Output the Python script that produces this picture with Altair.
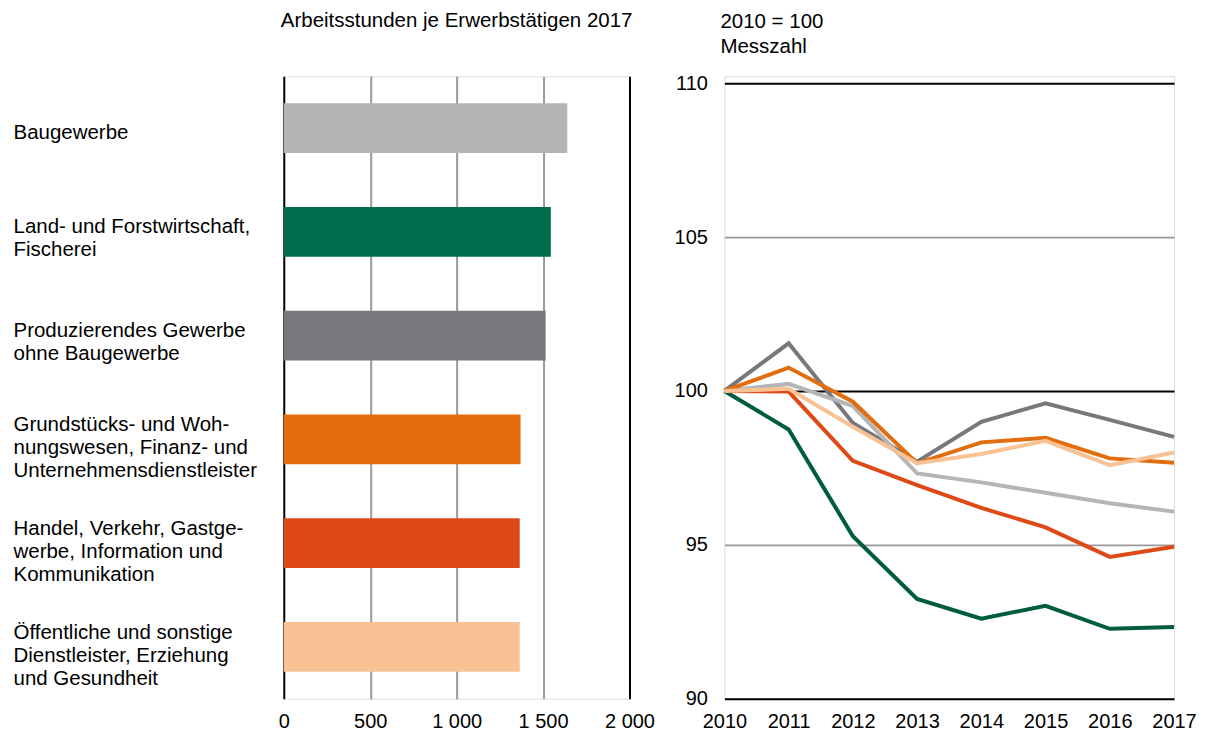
import altair as alt
import pandas as pd

# ---- data ----
categories = [
    "Baugewerbe",
    "Land- und Forstwirtschaft,|Fischerei",
    "Produzierendes Gewerbe|ohne Baugewerbe",
    "Grundstücks- und Woh-|nungswesen, Finanz- und|Unternehmensdienstleister",
    "Handel, Verkehr, Gastge-|werbe, Information und|Kommunikation",
    "Öffentliche und sonstige|Dienstleister, Erziehung|und Gesundheit",
]
hours_2017 = [1640, 1545, 1515, 1370, 1365, 1365]
bar_colors = ["#b4b5b7", "#006e4e", "#77787b", "#e36d0c", "#de4a17", "#f8c294"]

years = [2010, 2011, 2012, 2013, 2014, 2015, 2016, 2017]
idx_bau = [100, 100.23, 99.51, 97.32, 97.03, 96.69, 96.35, 96.08]
idx_land = [100, 98.75, 95.28, 93.24, 92.60, 93.02, 92.27, 92.33]
idx_prod = [100, 101.55, 98.96, 97.70, 99.00, 99.60, 99.06, 98.51]
idx_grund = [100, 100.76, 99.65, 97.65, 98.33, 98.48, 97.81, 97.67]
idx_handel = [100, 99.98, 97.73, 96.94, 96.20, 95.57, 94.61, 94.94]
idx_oeff = [100, 100.07, 98.84, 97.65, 97.95, 98.38, 97.59, 98.00]

series_names = ["Produzierendes", "Baugewerbe", "Land", "Handel", "Grundstücks", "Öffentliche"]
series_values = [idx_prod, idx_bau, idx_land, idx_handel, idx_grund, idx_oeff]
line_colors = ["#77787b", "#b4b5b7", "#005c40", "#de4a17", "#e36d0c", "#f8c294"]

FONT = "Liberation Sans"
FS_TXT = 20.5
FS_TICK = 20

# ---- bar chart ----
bar_df = pd.DataFrame({"cat": categories, "hours": hours_2017, "color": bar_colors})

bars = alt.Chart(bar_df).mark_bar().encode(
    y=alt.Y(
        "cat:N",
        sort=None,
        scale=alt.Scale(paddingInner=0.52, paddingOuter=0.26),
        axis=alt.Axis(
            title=None,
            labelExpr="split(datum.label, '|')",
            labelAlign="left",
            labelBaseline="middle",
            labelPadding=271,
            labelOffset={
                "condition": [
                    {"test": "length(split(datum.value, '|')) == 3", "value": -14},
                    {"test": "length(split(datum.value, '|')) == 2", "value": -5},
                ],
                "value": 5,
            },
            ticks=False,
            domain=False,
            labelFontSize=FS_TXT,
            labelLineHeight=23,
            labelLimit=400,
            labelColor="#000000",
            labelFont=FONT,
        ),
    ),
    x=alt.X(
        "hours:Q",
        scale=alt.Scale(domain=[0, 2000], nice=False),
        axis=alt.Axis(
            title=None,
            values=[0, 500, 1000, 1500, 2000],
            grid=True,
            gridColor={"condition": {"test": "datum.value == 0 || datum.value == 2000", "value": "#000000"}, "value": "#999999"},
            gridWidth=2,
            domain=False,
            ticks=False,
            labelFlush=False,
            labelExpr="replace(format(datum.value, ',d'), ',', ' ')",
            labelPadding=13,
            labelFontSize=FS_TICK,
            labelColor="#000000",
            labelFont=FONT,
        ),
    ),
    color=alt.Color("color:N", scale=None),
).properties(
    width=346,
    height=623,
    title=alt.TitleParams(
        "Arbeitsstunden je Erwerbstätigen 2017",
        anchor="middle",
        frame="group",
        fontSize=FS_TXT,
        fontWeight="normal",
        font=FONT,
        color="#000000",
        offset=45,
    ),
)

# ---- line chart ----
rows = []
for name, vals in zip(series_names, series_values):
    for y, v in zip(years, vals):
        rows.append({"series": name, "year": y, "value": v})
line_df = pd.DataFrame(rows)


def enc(chart):
    return chart.encode(
        x=alt.X(
            "year:Q",
            scale=alt.Scale(domain=[2010, 2017], nice=False),
            axis=alt.Axis(
                title=None,
                values=years,
                format="d",
                grid=False,
                domain=False,
                ticks=False,
                labelFlush=False,
                labelOverlap=False,
                labelPadding=13,
                labelFontSize=FS_TICK,
                labelColor="#000000",
                labelFont=FONT,
            ),
        ),
        y=alt.Y(
            "value:Q",
            scale=alt.Scale(domain=[90, 110.227], nice=False, zero=False),
            axis=alt.Axis(
                title=None,
                values=[90, 95, 100, 105, 110],
                grid=True,
                gridColor={"condition": {"test": "datum.value == 95 || datum.value == 105", "value": "#999999"}, "value": "#000000"},
                gridWidth={"condition": {"test": "datum.value == 95 || datum.value == 105", "value": 1.6}, "value": 2},
                domain=False,
                ticks=False,
                labelFlush=False,
                labelPadding=17,
                labelFontSize=FS_TICK,
                labelColor="#000000",
                labelFont=FONT,
            ),
        ),
    )


base = alt.Chart(line_df)
layers = []
for name, col in zip(series_names, line_colors):
    layers.append(
        enc(base.transform_filter(alt.datum.series == name).mark_line(color=col, strokeWidth=4))
    )

lines = alt.layer(*layers).properties(
    width=450,
    height=623,
    title=alt.TitleParams(
        ["2010 = 100", "Messzahl"],
        anchor="start",
        frame="group",
        fontSize=FS_TXT,
        fontWeight="normal",
        font=FONT,
        color="#000000",
        lineHeight=25,
        offset=16,
        dx=-4,
    ),
)

chart = (
    alt.hconcat(bars, lines, spacing=18)
    .properties(padding={"left": 4, "top": 2, "right": 0, "bottom": 0})
    .configure_view(stroke=None)
    .configure(font=FONT)
)

chart.save("out.html", embed_options={"renderer": "svg", "actions": False})
